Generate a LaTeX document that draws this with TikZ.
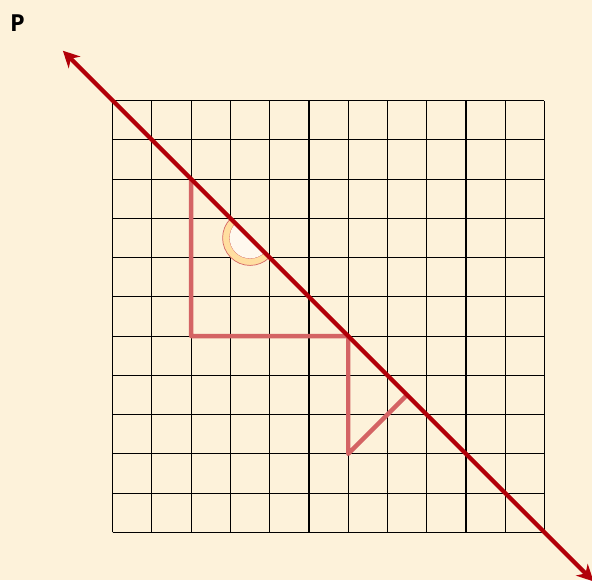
\documentclass[tikz,border=0pt]{standalone}
\usepackage{fontspec}
\setsansfont{Open Sans}
\usetikzlibrary{arrows.meta}
\definecolor{paper}{RGB}{253,242,218}
\definecolor{linered}{RGB}{178,0,8}
\definecolor{pathred}{RGB}{212,100,100}
\definecolor{anglefill}{RGB}{255,222,160}
\definecolor{anglein}{RGB}{255,248,238}
\begin{document}
\begin{tikzpicture}[x=1cm,y=1cm]
  \fill[paper] (-2.871,-1.215) rectangle (12.211,13.562);
  \useasboundingbox (-2.871,-1.215) rectangle (12.211,13.562);
  \draw[line width=0.8pt] (0,0) grid (11,11);
  % angle mark
  \begin{scope}[shift={(3.5,7.5)}]
    \filldraw[anglefill,draw=pathred,line width=0.5pt]
      (-45:0.7) arc (-45:-225:0.7) -- (135:0.52) arc (135:315:0.52) -- cycle;
    \fill[anglein] (135:0.52) arc (135:315:0.52) -- cycle;
  \end{scope}
  % red path
  \draw[pathred,line width=3.2pt,line join=round] (2,9) -- (2,5) -- (6,5) -- (6,2) -- (7.5,3.5);
  % line
  \coordinate (lineA) at (-1.27,12.27);
  \coordinate (lineB) at (12.25,-1.25);
  \draw[linered,line width=3pt,{Stealth[length=12pt,width=12pt]}-{Stealth[length=12pt,width=12pt]}] (lineA) -- (lineB);
  \node[font=\sffamily\bfseries\fontsize{17}{20}\selectfont] (P) at (-2.425,12.98) {P};
\end{tikzpicture}
\end{document}
